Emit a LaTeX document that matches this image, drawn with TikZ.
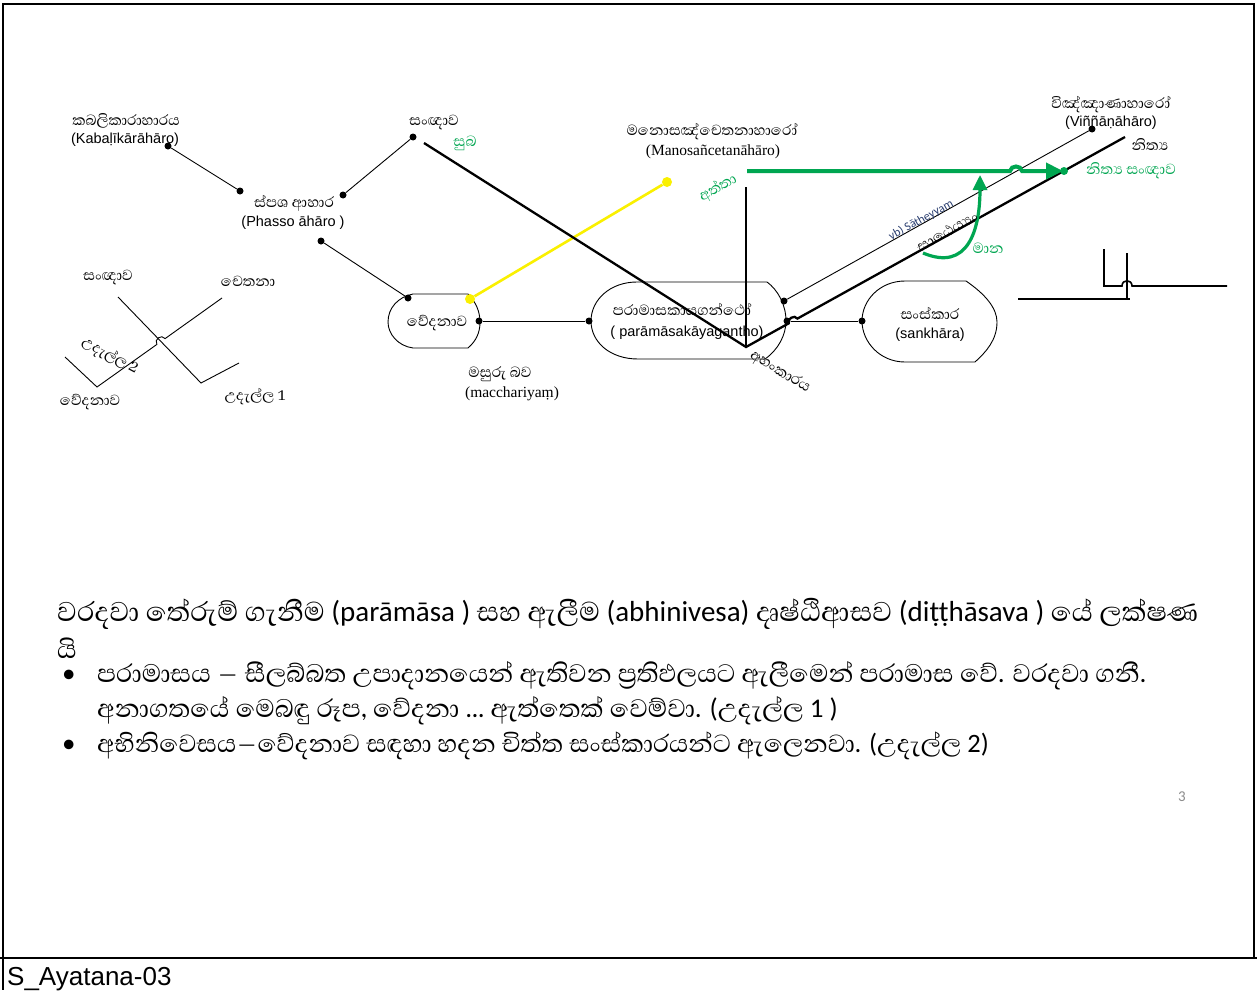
\documentclass[tikz,border=0pt]{standalone}
\usepackage{fontspec}
\setmainfont{Carlito}
\newfontfamily\sinhalafont[Script=Sinhala,Scale=1.2]{Abhaya Libre}
\newfontfamily\arialf{Liberation Sans}
\newfontfamily\timesf{Liberation Serif}
\usetikzlibrary{arrows.meta}
\definecolor{lgreen}{RGB}{0,166,81}
\definecolor{lyellow}{RGB}{250,240,0}
\definecolor{sblue}{RGB}{40,60,110}
\definecolor{pgnum}{RGB}{140,140,140}
\newcommand{\snh}[1]{{\sinhalafont #1}}
\begin{document}
\begin{tikzpicture}[x=1pt,y=-1pt,
  dot/.style={circle,fill=black,inner sep=0pt,minimum size=7pt},
  ydot/.style={circle,fill=lyellow,inner sep=0pt,minimum size=10pt},
  gdot/.style={circle,fill=lgreen,inner sep=0pt,minimum size=8pt},
  sl/.style={font=\sinhalafont\fontsize{15.6}{18}\selectfont,inner sep=0pt},
  ll/.style={font=\arialf\fontsize{14.5}{17}\selectfont,inner sep=0pt},
  sr/.style={font=\timesf\fontsize{15.5}{18}\selectfont,inner sep=0pt},
  thinln/.style={line width=0.9pt},
  thickln/.style={line width=2.3pt},
  greenln/.style={draw=lgreen,line width=4pt},
  body/.style={anchor=west,inner sep=0pt,font=\fontsize{27}{32}\selectfont},
]
\useasboundingbox (0,0) rectangle (1257,990);
\fill[white] (0,0) rectangle (1257,990);

% frame and footer
\draw[line width=1.6pt] (3,4) rectangle (1254,958);
\draw[line width=1.6pt] (0,958) -- (1257,958);
\draw[line width=1.6pt] (3,958) -- (3,990);
\node[anchor=base west,inner sep=0pt,font=\arialf\fontsize{26}{30}\selectfont] (footer) at (7,985) {S\_Ayatana-03};
\node[inner sep=0pt,font=\fontsize{15}{18}\selectfont,text=pgnum] (pagenum) at (1182,797) {3};

% ---------- upper diagram ----------
% shapes
\draw[thinln] (413,294) -- (468,294) .. controls (476,302) and (480,312) .. (480,322)
  .. controls (480,333) and (476,341) .. (468,348) -- (413,348)
  .. controls (398,346) and (388,334) .. (388,322) .. controls (388,308) and (398,297) .. (413,294);
\node[sl] (vedana) at (437,323) {වේදනාව};

\draw[thinln] (637,282) -- (767,282) .. controls (778,290) and (786,305) .. (786,321)
  .. controls (786,335) and (778,350) .. (765,359) -- (638,359)
  .. controls (610,359) and (591,342) .. (591,321) .. controls (591,300) and (610,282) .. (637,282);
\node[sl] (param) at (682,309) {පරාමාසකායගන්ථෝ};
\node[ll] (paramL) at (687,333) {( parāmāsakāyagantho)};

\draw[thinln] (905,281) -- (966,281) .. controls (985,294) and (997,308) .. (997,322)
  .. controls (997,340) and (986,352) .. (975,362) -- (905,362)
  .. controls (880,362) and (862,342) .. (862,321) .. controls (862,300) and (880,281) .. (905,281);
\node[sl] (sankh) at (930,313) {සංස්කාර};
\node[ll] (sankhL) at (930,335) {(sankhāra)};

% dots
\node[dot] (k1) at (168,146) {};
\node[dot] (p1) at (240,191) {};
\node[dot] (p2) at (343,195) {};
\node[dot] (s1) at (413,137) {};
\node[dot] (p3) at (321,241) {};
\node[dot] (v1) at (408,298) {};
\node[ydot] (v2) at (470,299) {};
\node[ydot] (m1) at (667,182) {};
\node[dot] (v3) at (479,321) {};
\node[dot] (pa1) at (589,321) {};
\node[dot] (pa2) at (784,301) {};
\node[dot] (pa3) at (787,321) {};
\node[dot] (sk1) at (862,321) {};
\node[dot] (vi1) at (1092,129) {};

% thin connectors
\draw[thinln] (k1) -- (p1);
\draw[thinln] (p2) -- (s1);
\draw[thinln] (p3) -- (v1);
\draw[thinln] (v3) -- (pa1);
\draw[thinln] (pa3) -- (sk1);
\draw[thinln] (pa2) -- (vi1);
\draw[draw=lyellow,line width=2.6pt] (v2) -- (m1);

% heavy lines
\coordinate (sA) at (424,143);
\coordinate (V) at (746,347);
\coordinate (vtop) at (746,187);
\coordinate (tR) at (1125,137);
\coordinate (hA) at (788.6,323.4);
\coordinate (hB) at (797.4,318.6);
\draw[thickln,line join=miter] (sA) -- (V) -- (hA) .. controls (786.2,319.0) and (795.0,314.2) .. (hB) -- (tR);
\draw[thickln] (vtop) -- (V);

% green arrow with hop over the thin line
\coordinate (g0) at (747,171);
\coordinate (g1) at (1063,171);
\coordinate (gh1) at (1010,171);
\coordinate (gh2) at (1022,171);
\draw[greenln,-{Triangle[length=17pt,width=16pt]}] (g0) -- (gh1) .. controls (1011,165) and (1021,165) .. (gh2) -- (g1);
\node[gdot] (gend) at (1064,171) {};

% curved green arrow
\coordinate (c0) at (923,253);
\coordinate (c1) at (980,175);
\draw[draw=lgreen,line width=3.2pt,-{Triangle[length=15pt,width=14pt]}] (c0) .. controls (968,272) and (980,230) .. (c1);

% labels
\node[sl] (kab) at (126,121) {කබලිකාරාහාරය};
\node[ll] (kabL) at (125,140) {(Kabaḷīkārāhāro)};
\node[sl] (phs) at (294,203) {ස්පශ ආහාර};
\node[ll] (phsL) at (293,223) {(Phasso āhāro )};
\node[sl] (sanna) at (434,123) {සංඥාව};
\node[sl,text=lgreen] (subha) at (465,143) {සුබ};
\node[sl] (mano) at (712,132) {මනොසඤ්චෙතනාහාරෝ};
\node[sr] (manoL) at (713,152) {(Manosañcetanāhāro)};
\node[sl,text=lgreen,rotate=30] (atta) at (718,188) {අත්තා};
\node[sl] (vinn) at (1111,105) {විඤ්ඤාණාහාරෝ};
\node[ll] (vinnL) at (1111,123) {(Viññāṇāhāro)};
\node[sl] (nicca) at (1150,145) {නිත්‍ය};
\node[sl,text=lgreen] (nsanna) at (1131,171) {නිත්‍ය සංඥාව};
\node[inner sep=0pt,font=\fontsize{12}{14}\selectfont,text=sblue,rotate=29] (sath) at (921,220) {vb) Sātheyyam};
\node[sl,rotate=29] (sathS) at (947,231) {සාඨෙය්‍යං};
\node[sl,text=lgreen] (mana) at (988,248) {මාන};
\node[sl,rotate=-32] (ahan) at (780,372) {අහංකාරය};
\node[sl] (macc) at (500,374) {මසුරු බව};
\node[sr] (maccL) at (512,394) {(macchariyaṃ)};

% small figure on the right
\coordinate (r1) at (1018,299);
\coordinate (r2) at (1130,299);
\coordinate (r3) at (1127,253);
\coordinate (r4) at (1127,299);
\coordinate (r5) at (1104,249);
\coordinate (r6) at (1104,286);
\coordinate (r7) at (1227,286);
\draw[line width=1.6pt] (r1) -- (r2);
\draw[line width=1.6pt] (r3) -- (r4);
\draw[line width=1.6pt] (r5) -- (r6) -- (1122,286) .. controls (1122,279) and (1132,279) .. (1132,286) -- (r7);

% ---------- lower-left sketch ----------
\node[sl] (ls1) at (108,278) {සංඥාව};
\node[sl] (ls2) at (248,281) {චෙතනා};
\node[sl] (ls3) at (90,402) {වේදනාව};
\node[sl] (ls4) at (255,397) {උදැල්ල 1};
\node[sl,rotate=-28] (ls5) at (110,356) {උදැල්ල 2};
\coordinate (a1) at (118,297);
\coordinate (a2) at (201,383);
\coordinate (a3) at (239,363);
\coordinate (b1) at (222,298);
\coordinate (b2) at (97,387);
\coordinate (b3) at (65,357);
\coordinate (bh1) at (165.1,338.6);
\coordinate (bh2) at (156.9,344.4);
\draw[thinln] (a1) -- (a2) -- (a3);
\draw[thinln] (b1) -- (bh1) .. controls (161.6,333.7) and (153.4,339.5) .. (bh2) -- (b2) -- (b3);

% ---------- text block ----------
\node[body,font=\fontsize{29}{34}\selectfont] (t1) at (57,614) {\snh{වරදවා තේරුම් ගැනීම} (parāmāsa ) \snh{සහ ඇලීම} (abhinivesa) \snh{දෘෂ්ඨිආසව} (diṭṭhāsava ) \snh{යේ ලක්ෂණ}};
\node[body] (t2) at (57,648) {\snh{යි}};
\node[body] (bul1) at (62,676) {•};
\node[body] (t3) at (97,676) {\snh{පරාමාසය – සීලබ්බත උපාදානයෙන් ඇතිවන ප්‍රතිඵලයට ඇලීමෙන් පරාමාස වේ. වරදවා ගනී.}};
\node[body] (t4) at (97,711) {\snh{අනාගතයේ මෙබඳු රූප, වේදනා … ඇත්තෙක් වෙම්වා.} (\snh{උදැල්ල} 1 )};
\node[body] (bul2) at (62,746) {•};
\node[body,font=\fontsize{26.5}{31}\selectfont] (t5) at (97,746) {\snh{අභිනිවෙසය–වේදනාව සඳහා හදන චිත්ත සංස්කාරයන්ට ඇලෙනවා.} (\snh{උදැල්ල} 2)};
\end{tikzpicture}
\end{document}
